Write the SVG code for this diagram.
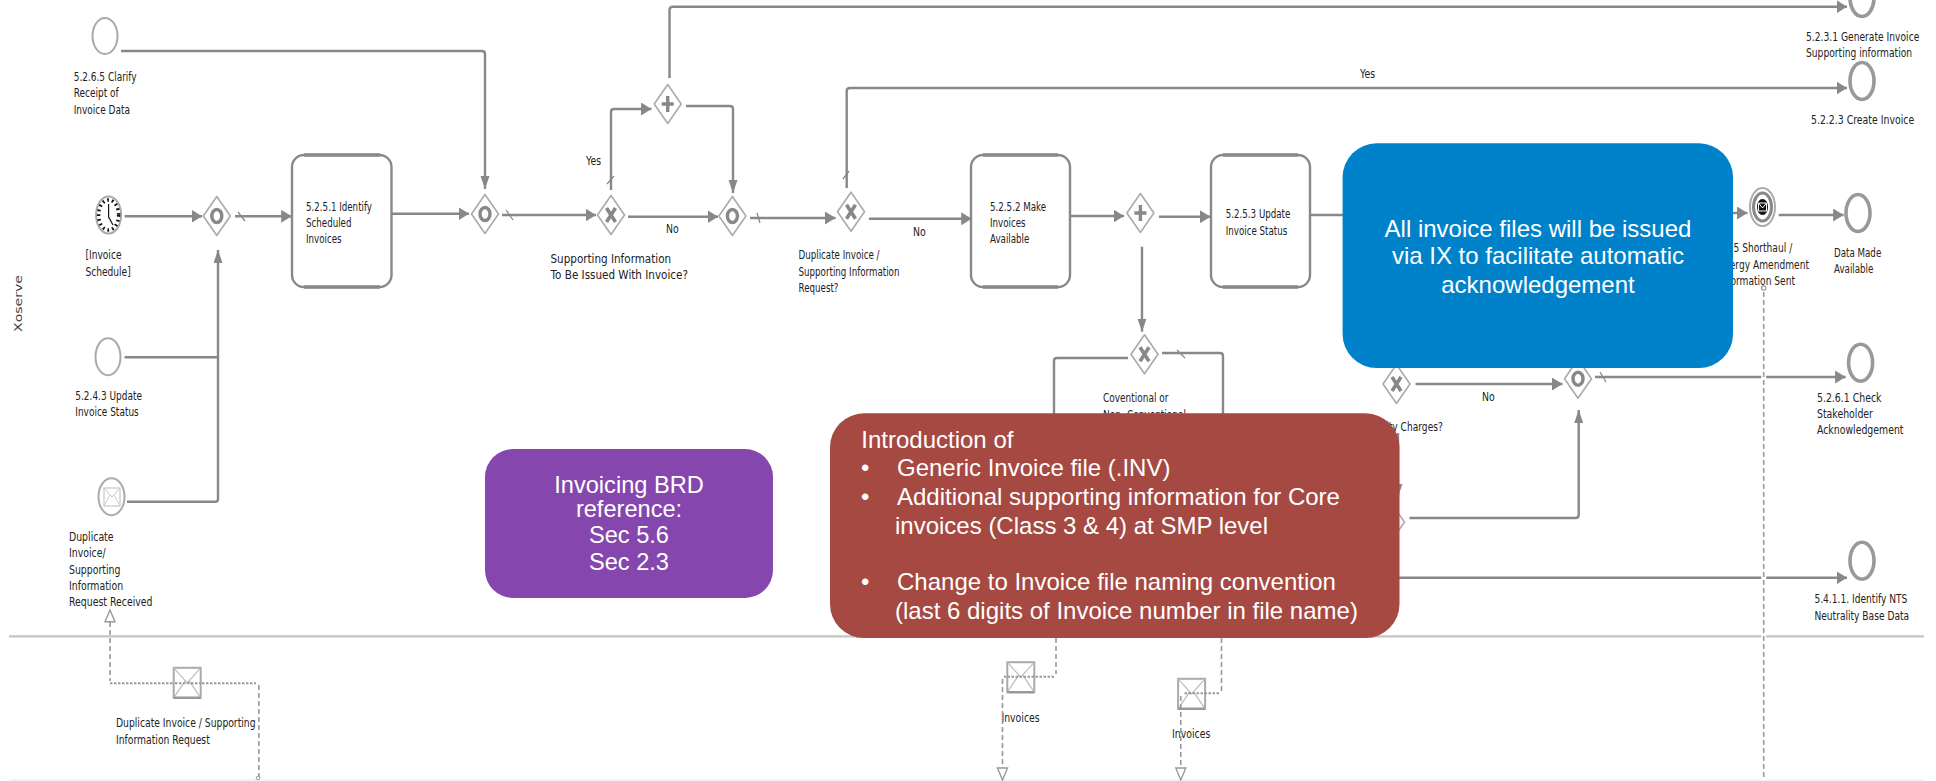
<svg xmlns="http://www.w3.org/2000/svg" xmlns:xlink="http://www.w3.org/1999/xlink" width="1936" height="781" viewBox="0 0 1936 781">
<style>
.f{fill:none;stroke:#888;stroke-width:2.4}
.ah{marker-end:url(#ah)}
.av{marker-end:url(#av)}
.s{fill:none;stroke:#888;stroke-width:1.3}
.d{fill:none;stroke:#999;stroke-width:1.6;stroke-dasharray:5 3}
.dd{fill:none;stroke:#999;stroke-width:2;stroke-dasharray:2.5 1.5}
.l{font-family:"DejaVu Sans",sans-serif;font-size:13px;fill:#222}
.t{fill:#fff;stroke:#888;stroke-width:2.4}
.tb{fill:none;stroke:#888;stroke-width:3.6}
.e{fill:#fff;stroke:#aaa;stroke-width:2}
.end{fill:#fff;stroke:#999;stroke-width:3.6}
.g{fill:#fff;stroke:#aaa;stroke-width:1.6;stroke-linejoin:round}
.c{font-family:"Liberation Sans",Arial,sans-serif;fill:#fff}
.env{fill:#fff;stroke:#aaa;stroke-width:2}
.tri{fill:#fff;stroke:#999;stroke-width:1.4}
</style>
<defs>
<marker id="ah" markerUnits="userSpaceOnUse" markerWidth="11" markerHeight="14" refX="10.5" refY="6.5" orient="auto"><path d="M0 0L10.5 6.5L0 13z" fill="#888"/></marker>
<marker id="av" markerUnits="userSpaceOnUse" markerWidth="14" markerHeight="10" refX="13" refY="4.5" orient="auto"><path d="M0 0L13 4.5L0 9z" fill="#888"/></marker>
<path id="dm" class="g" d="M0-19.5L13.5 0L0 19.5L-13.5 0z"/>
<g id="gwO"><use xlink:href="#dm" href="#dm"/><ellipse rx="5" ry="6.5" fill="none" stroke="#888" stroke-width="3.4"/></g>
<g id="gwX"><use xlink:href="#dm" href="#dm"/><path d="M-4.5-7L4.5 7M4.5-7L-4.5 7" stroke="#888" stroke-width="3.6" fill="none"/></g>
<g id="gwP"><use xlink:href="#dm" href="#dm"/><path d="M0-8V8M-6 0H6" stroke="#888" stroke-width="3.4" fill="none"/></g>
<g id="envm"><rect x="-13.5" y="-15" width="27" height="30" class="env"/><path d="M-13.5-15L0 0L13.5-15M-13.5 15L-2-2M13.5 15L2-2" fill="none" stroke="#bbb" stroke-width="1.2"/><path d="M-13.5 15H13.5" stroke="#999" stroke-width="2.4"/></g>
</defs>
<rect width="1936" height="781" fill="#fff"/>
<g id="lanes">
<path d="M9 636.3H1924" stroke="#c4c4c4" stroke-width="2.2" fill="none"/>
<path d="M9 780H1924" stroke="#eee" stroke-width="1.5" fill="none"/>
<text transform="translate(22 332) rotate(-90) scale(1.34 1)" font-family="DejaVu Sans,sans-serif" font-size="10.5" fill="#444">Xoserve</text>
</g>
<g id="connectors">
<path class="f av" d="M121 51H482Q485 51 485 54V189"/>
<path class="f ah" d="M124.6 216.3H202"/>
<path class="f ah" d="M235 216.3H291.7"/>
<path class="f" d="M124.6 357.3H217"/>
<path class="f av" d="M127 501.7H215Q218 501.7 218 499V250"/>
<path class="f ah" d="M392 213.7H469"/>
<path class="f ah" d="M502 215H596"/>
<path class="f ah" d="M628 216.7H718"/>
<path class="f ah" d="M611 190V112Q611 109 614 109H651.5"/>
<path class="f ah" d="M669.5 78V10Q669.5 6.7 673 6.7H1847"/>
<path class="f av" d="M686 106H730Q733 106 733 109V193"/>
<path class="f ah" d="M750 218H835.5"/>
<path class="f ah" d="M846.7 188V91Q846.7 88 850 88H1847"/>
<path class="f ah" d="M869 218.7H971.7"/>
<path class="f ah" d="M1071 216H1124"/>
<path class="f ah" d="M1159 216.7H1210.5"/>
<path class="f" d="M1311 215H1345"/>
<path class="f ah" d="M1733 213H1747.5"/>
<path class="f ah" d="M1778.7 215H1843.6"/>
<path class="f av" d="M1142 246.7V331.7"/>
<path class="f" d="M1128 358H1057Q1054 358 1054 361V415"/>
<path class="f" d="M1162 353H1220Q1223 353 1223 356V415"/>
<path class="f ah" d="M1415.600 384H1562.500"/>
<path class="f ah" d="M1595 377H1845.600"/>
<path class="f av" d="M1409.500 518H1575.700Q1578.700 518 1578.700 515V410"/>
<path class="f ah" d="M1395 577.700H1847"/>
<path class="f av" d="M1398 433V497"/>
<path class="s" d="M607 184L614 176M843 179L849 171M757 213L760 223M506 210L513 220M238 212L245 221M1177 350L1185 358M1600 372L1606 382"/>
<path d="M1763.700 292V780" stroke="#fff" stroke-width="5" fill="none"/>
<path class="d" d="M1763.700 292V780"/>
<circle cx="1763.700" cy="288" r="2.200" fill="#fff" stroke="#999" stroke-width="1.200"/>
<path class="d" d="M110 622V681"/>
<path class="dd" d="M110 683.300H256"/>
<path class="d" d="M258.800 685V780"/>
<path class="tri" d="M110 610L115 621.700H105z"/>
<circle cx="258" cy="778" r="1.800" fill="#fff" stroke="#999"/>
</g>
<g id="n5265"><ellipse class="e" cx="105" cy="36" rx="12.500" ry="18"/><text class="l" transform="translate(73.700 81) scale(.69 1)">5.2.6.5 Clarify<tspan x="0" dy="16.3">Receipt of</tspan><tspan x="0" dy="16.3">Invoice Data</tspan></text></g>
<g id="nClock"><ellipse class="e" cx="108.600" cy="215" rx="12.500" ry="18.500"/><ellipse cx="108.600" cy="215" rx="10" ry="15" fill="none" stroke="#111" stroke-width="3.400" stroke-dasharray="1.800 3"/><path d="M108.600 204V217L113 225" fill="none" stroke="#111" stroke-width="1.200"/><text class="l" transform="translate(85.400 259.300) scale(.7 1)">[Invoice<tspan x="0" dy="16.3">Schedule]</tspan></text></g>
<g id="gw1" transform="translate(216.800 216)"><use xlink:href="#gwO" href="#gwO"/></g>
<g id="n5251"><rect class="t" x="292" y="155" width="99.500" height="132" rx="12"/><path class="tb" d="M304 155H380M304 287H380"/><text class="l" transform="translate(306 210.700) scale(.67 1)">5.2.5.1 Identify<tspan x="0" dy="16.3">Scheduled</tspan><tspan x="0" dy="16.3">Invoices</tspan></text></g>
<g id="gw2" transform="translate(485 214)"><use xlink:href="#gwO" href="#gwO"/></g>
<g id="gw3" transform="translate(611 215)"><use xlink:href="#gwX" href="#gwX"/><text class="l" transform="translate(-25 -50) scale(.72 1)">Yes</text><text class="l" transform="translate(-60.500 47.700) scale(.8 1)">Supporting Information<tspan x="0" dy="16.3">To Be Issued With Invoice?</tspan></text><text class="l" transform="translate(55 18) scale(.72 1)">No</text></g>
<g id="gw4" transform="translate(667.700 104)"><use xlink:href="#gwP" href="#gwP"/></g>
<g id="gw5" transform="translate(732.400 216)"><use xlink:href="#gwO" href="#gwO"/></g>
<g id="gw6" transform="translate(851 211.700)"><use xlink:href="#gwX" href="#gwX"/><text class="l" transform="translate(-52.500 47.600) scale(.67 1)">Duplicate Invoice /<tspan x="0" dy="16.3">Supporting Information</tspan><tspan x="0" dy="16.3">Request?</tspan></text><text class="l" transform="translate(62 24) scale(.72 1)">No</text></g>
<g id="n5252"><rect class="t" x="971" y="155" width="99" height="132" rx="12"/><path class="tb" d="M983 155H1058M983 287H1058"/><text class="l" transform="translate(990 210.700) scale(.67 1)">5.2.5.2 Make<tspan x="0" dy="16.3">Invoices</tspan><tspan x="0" dy="16.3">Available</tspan></text></g>
<g id="gw7" transform="translate(1140.400 213)"><use xlink:href="#gwP" href="#gwP"/></g>
<g id="n5253"><rect class="t" x="1211" y="155" width="99" height="132" rx="12"/><path class="tb" d="M1223 155H1298M1223 287H1298"/><text class="l" transform="translate(1225.700 218.300) scale(.67 1)">5.2.5.3 Update<tspan x="0" dy="16.3">Invoice Status</tspan></text></g>
<g id="gw8" transform="translate(1144.500 354.300)"><use xlink:href="#gwX" href="#gwX"/><text class="l" transform="translate(-41.500 48) scale(.69 1)">Coventional or<tspan x="0" dy="16.3">Non- Conventional</tspan></text></g>
<g id="gw9" transform="translate(1396.500 384)"><use xlink:href="#gwX" href="#gwX"/><text class="l" text-anchor="end" transform="translate(46.300 47) scale(.7 1)">ity Charges?</text></g>
<text class="l" transform="translate(1482 401) scale(.72 1)">No</text>
<g id="gw10" transform="translate(1578 378.700)"><use xlink:href="#gwO" href="#gwO"/></g>
<g id="gw11" transform="translate(1391 522)"><use xlink:href="#gwX" href="#gwX"/></g>
<g id="nTop"><ellipse class="end" cx="1862" cy="-2" rx="12" ry="18.500"/><text class="l" transform="translate(1806 41) scale(.705 1)">5.2.3.1 Generate Invoice<tspan x="0" dy="16.3">Supporting information</tspan></text></g>
<g id="n5223"><ellipse class="end" cx="1862" cy="81" rx="12" ry="18.500"/><text class="l" transform="translate(1811 124) scale(.72 1)">5.2.2.3 Create Invoice</text><text class="l" transform="translate(1360 78.300) scale(.72 1)">Yes</text></g>
<g id="nSent"><ellipse class="e" cx="1762.500" cy="207" rx="12.500" ry="19"/><ellipse cx="1762.500" cy="207" rx="9" ry="14" fill="#fff" stroke="#888" stroke-width="3"/><ellipse cx="1762.500" cy="207" rx="5.500" ry="8" fill="#111"/><path d="M1758.500 203H1766.500V211H1758.500zM1758.500 203L1762.500 208L1766.500 203" fill="none" stroke="#fff" stroke-width="1"/><text class="l" transform="translate(1733.500 252.300) scale(.7 1)">5 Shorthaul /</text><text class="l" text-anchor="end" transform="translate(1809 268.600) scale(.7 1)">Energy Amendment</text><text class="l" text-anchor="end" transform="translate(1795 284.900) scale(.7 1)">Information Sent</text></g>
<g id="nData"><ellipse class="end" cx="1858" cy="213" rx="12" ry="18.500"/><text class="l" transform="translate(1834 256.700) scale(.67 1)">Data Made<tspan x="0" dy="16.3">Available</tspan></text></g>
<g id="n5243"><ellipse class="e" cx="108" cy="356.700" rx="12.500" ry="18.500"/><text class="l" transform="translate(75.300 400) scale(.69 1)">5.2.4.3 Update<tspan x="0" dy="16.3">Invoice Status</tspan></text></g>
<g id="nDup"><ellipse class="e" cx="111.500" cy="496.700" rx="13" ry="18.500"/><rect x="104" y="488" width="16" height="18" fill="#fff" stroke="#bbb"/><path d="M104 488L112 497L120 488M104 506L110 495M120 506L114 495" fill="none" stroke="#ccc"/><text class="l" transform="translate(69 541) scale(.72 1)">Duplicate<tspan x="0" dy="16.3">Invoice/</tspan><tspan x="0" dy="16.3">Supporting</tspan><tspan x="0" dy="16.3">Information</tspan><tspan x="0" dy="16.3">Request Received</tspan></text></g>
<g id="n5261"><ellipse class="end" cx="1860.600" cy="362.700" rx="12" ry="18.500"/><text class="l" transform="translate(1817 401.700) scale(.72 1)">5.2.6.1 Check<tspan x="0" dy="16.3">Stakeholder</tspan><tspan x="0" dy="16.3">Acknowledgement</tspan></text></g>
<g id="n5411"><ellipse class="end" cx="1862" cy="560.700" rx="12" ry="18.500"/><text class="l" transform="translate(1814.400 603.300) scale(.7 1)">5.4.1.1. Identify NTS<tspan x="0" dy="16.3">Neutrality Base Data</tspan></text></g>
<g id="mDup"><use xlink:href="#envm" href="#envm" transform="translate(187.200 682.800)"/><path class="dd" d="M175 683.300H201"/><text class="l" transform="translate(116 727.300) scale(.71 1)">Duplicate Invoice / Supporting<tspan x="0" dy="16.3">Information Request</tspan></text></g>
<g id="mInv1"><use xlink:href="#envm" href="#envm" transform="translate(1020.800 677.200)"/><text class="l" transform="translate(1001.400 721.700) scale(.72 1)">Invoices</text><path class="d" d="M1056 638V674"/><path class="dd" d="M1054 676.700H1004"/><path class="d" d="M1002.500 679V768"/><path class="tri" d="M1002.500 780L997.500 768H1007.500z"/></g>
<g id="mInv2"><use xlink:href="#envm" href="#envm" transform="translate(1191.600 693.800)"/><text class="l" transform="translate(1172 737.700) scale(.72 1)">Invoices</text><path class="d" d="M1221.500 638V691"/><path class="dd" d="M1219 693.300H1183"/><path class="d" d="M1180.800 696V768"/><path class="tri" d="M1180.800 780L1175.800 768H1185.800z"/></g>
<g id="callBlue"><rect x="1342.600" y="143.300" width="390.400" height="224.700" rx="34" fill="#0082ca"/><text class="c" font-size="24" text-anchor="middle"><tspan x="1538" y="236.700">All invoice files will be issued</tspan><tspan x="1538" y="263.500">via IX to facilitate automatic</tspan><tspan x="1538" y="292.700">acknowledgement</tspan></text></g>
<g id="callRed"><rect x="830" y="413.300" width="569.500" height="224.700" rx="34" fill="#a64942"/><text class="c" font-size="24"><tspan x="861.300" y="448">Introduction of</tspan><tspan x="861" y="476">•</tspan><tspan x="897" y="476">Generic Invoice file (.INV)</tspan><tspan x="861" y="505">•</tspan><tspan x="897" y="505">Additional supporting information for Core</tspan><tspan x="895" y="534">invoices (Class 3 &amp; 4) at SMP level</tspan><tspan x="861" y="590">•</tspan><tspan x="897" y="590">Change to Invoice file naming convention</tspan><tspan x="895" y="619">(last 6 digits of Invoice number in file name)</tspan></text></g>
<g id="callPurple"><rect x="485" y="449" width="288" height="149" rx="28" fill="#8547ad"/><text class="c" font-size="23.600" text-anchor="middle"><tspan x="629" y="493">Invoicing BRD</tspan><tspan x="629" y="517">reference:</tspan><tspan x="629" y="543">Sec 5.6</tspan><tspan x="629" y="570">Sec 2.3</tspan></text></g>
</svg>
